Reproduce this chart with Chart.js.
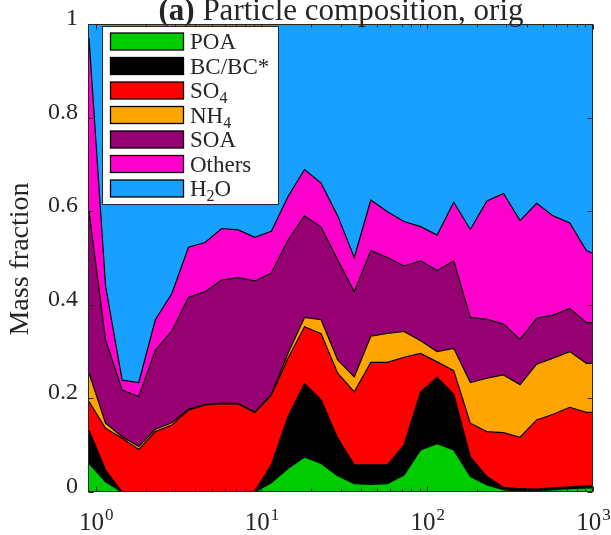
<!DOCTYPE html>
<html>
<head>
<meta charset="utf-8">
<script src="https://cdn.jsdelivr.net/npm/chart.js@4.4.1/dist/chart.umd.min.js"></script>
<style>
  html, body { margin: 0; padding: 0; background: #fff; }
  canvas { display: block; }
</style>
</head>
<body>
<canvas id="chartComposition" width="611" height="535"></canvas>
<script>
// --- DATA ---
// bin positions on the log x axis
const diameters = [0.912, 1.148, 1.445, 1.820, 2.291, 2.884, 3.631, 4.571, 5.754, 7.244,
    9.120, 11.48, 14.45, 18.20, 22.91, 28.84, 36.31, 45.71, 57.54, 72.44,
    91.20, 114.8, 144.5, 182.0, 229.1, 288.4, 363.1, 457.1, 575.4, 724.4, 912.0, 1000];

// mass fractions per species (stacked bottom -> top)
const poa = [0.061, 0.022, 0, 0, 0, 0, 0, 0, 0, 0,
    0, 0.020, 0.050, 0.075, 0.061, 0.035, 0.018, 0.016, 0.018, 0.036,
    0.090, 0.103, 0.090, 0.033, 0.015, 0.005, 0.002, 0.002, 0.005, 0.007, 0.009, 0.009];
const bc = [0.071, 0.025, 0, 0, 0, 0, 0, 0, 0, 0,
    0.002, 0.038, 0.111, 0.157, 0.136, 0.080, 0.040, 0.042, 0.040, 0.064,
    0.124, 0.142, 0.119, 0.042, 0.018, 0.005, 0.005, 0.004, 0.004, 0.004, 0.004, 0.004];
const so4 = [0.061, 0.089, 0.115, 0.091, 0.129, 0.143, 0.175, 0.186, 0.189, 0.188,
    0.168, 0.149, 0.125, 0.121, 0.141, 0.139, 0.156, 0.219, 0.219, 0.188,
    0.082, 0.033, 0.050, 0.072, 0.096, 0.117, 0.110, 0.148, 0.157, 0.170, 0.157, 0.157];
const nh4 = [0.061, 0.011, 0.003, 0.006, 0.005, 0.005, 0.002, 0.001, 0.001, 0.001,
    0.001, 0.002, 0.010, 0.020, 0.030, 0.028, 0.032, 0.056, 0.062, 0.055,
    0.027, 0.022, 0.048, 0.087, 0.114, 0.123, 0.112, 0.119, 0.120, 0.119, 0.105, 0.105];
const soa = [0.346, 0.178, 0.100, 0.107, 0.169, 0.196, 0.239, 0.241, 0.263, 0.269,
    0.280, 0.259, 0.242, 0.217, 0.198, 0.214, 0.182, 0.183, 0.162, 0.140,
    0.171, 0.173, 0.187, 0.139, 0.126, 0.109, 0.097, 0.098, 0.092, 0.092, 0.087, 0.087];
const others = [0.370, 0.115, 0.021, 0.030, 0.065, 0.080, 0.107, 0.105, 0.110, 0.102,
    0.093, 0.089, 0.093, 0.099, 0.094, 0.094, 0.073, 0.108, 0.098, 0.095,
    0.073, 0.076, 0.125, 0.188, 0.253, 0.279, 0.254, 0.246, 0.212, 0.183, 0.154, 0.148];
const h2o = [0.030, 0.560, 0.761, 0.766, 0.632, 0.576, 0.477, 0.467, 0.437, 0.440,
    0.456, 0.443, 0.369, 0.311, 0.340, 0.410, 0.499, 0.376, 0.401, 0.422,
    0.433, 0.451, 0.381, 0.439, 0.378, 0.362, 0.420, 0.383, 0.410, 0.425, 0.484, 0.490];

const seriesNames = ['POA', 'BC/BC*', 'SO_4', 'NH_4', 'SOA', 'Others', 'H_2O'];
const seriesValues = [poa, bc, so4, nh4, soa, others, h2o];
const seriesColors = ['#00CC00', '#000000', '#FF0000', '#FFA500', '#960073', '#FF00CC', '#17A0FF'];

const yTicks = [0, 0.2, 0.4, 0.6, 0.8, 1];
const yTickLabels = ['0', '0.2', '0.4', '0.6', '0.8', '1'];
const xTicks = [1, 10, 100, 1000];
const xTickExponents = ['0', '1', '2', '3'];

const FONT = '"Liberation Serif", "DejaVu Serif", serif';
const AXIS_COLOR = '#262626';

// text with one subscript char after '_'
function drawLabel(ctx, label, x, y, size) {
    const parts = label.split('_');
    ctx.font = size + 'px ' + FONT;
    ctx.fillText(parts[0], x, y);
    let cx = x + ctx.measureText(parts[0]).width;
    if (parts.length > 1) {
        const sub = parts[1][0];
        const rest = parts[1].slice(1);
        ctx.font = Math.round(size * 0.7) + 'px ' + FONT;
        ctx.fillText(sub, cx, y + size * 0.22);
        cx += ctx.measureText(sub).width;
        ctx.font = size + 'px ' + FONT;
        ctx.fillText(rest, cx, y);
    }
}

// axes box, ticks, labels, legend, title
const decorPlugin = {
    id: 'decor',
    afterDraw(chart) {
        const ctx = chart.ctx;
        const a = chart.chartArea;
        const xs = chart.scales.x;
        const ys = chart.scales.y;
        const L = Math.round(a.left) - 0.5, R = Math.round(a.right) - 0.5;
        const T = Math.round(a.top) + 0.5, B = Math.round(a.bottom) - 0.5;

        ctx.save();
        ctx.strokeStyle = AXIS_COLOR;
        ctx.lineWidth = 1;

        // y ticks
        yTicks.forEach(v => {
            const py = Math.round(ys.getPixelForValue(v)) + 0.5;
            ctx.beginPath();
            ctx.moveTo(L, py); ctx.lineTo(L + 5, py);
            ctx.moveTo(R, py); ctx.lineTo(R - 5, py);
            ctx.stroke();
        });
        // x ticks, major + minor
        xTicks.forEach((dec, i) => {
            const mults = i < xTicks.length - 1 ? [1, 2, 3, 4, 5, 6, 7, 8, 9] : [1];
            mults.forEach(m => {
                const px = Math.round(xs.getPixelForValue(dec * m)) + 0.5;
                const len = m === 1 ? 5 : 3;
                ctx.beginPath();
                ctx.moveTo(px, B); ctx.lineTo(px, B - len);
                ctx.moveTo(px, T); ctx.lineTo(px, T + len);
                ctx.stroke();
            });
        });

        // box
        ctx.strokeRect(L, T, R - L, B - T);

        ctx.fillStyle = AXIS_COLOR;
        // y tick labels
        ctx.font = '24px ' + FONT;
        ctx.textAlign = 'right';
        ctx.textBaseline = 'alphabetic';
        yTicks.forEach((v, i) => {
            const py = ys.getPixelForValue(v);
            ctx.fillText(yTickLabels[i], a.left - 11, py + 1);
        });

        // x tick labels 10^n
        ctx.textAlign = 'left';
        xTicks.forEach((v, i) => {
            const px = xs.getPixelForValue(v);
            ctx.font = '25px ' + FONT;
            const w1 = ctx.measureText('10').width;
            ctx.font = '17px ' + FONT;
            const w2 = ctx.measureText(xTickExponents[i]).width;
            const x0 = px - (w1 + w2) / 2;
            ctx.font = '25px ' + FONT;
            ctx.fillText('10', x0, 530);
            ctx.font = '17px ' + FONT;
            ctx.fillText(xTickExponents[i], x0 + w1 + 1, 520);
        });

        // y axis label
        ctx.save();
        ctx.translate(28, 259);
        ctx.rotate(-Math.PI / 2);
        ctx.textAlign = 'center';
        ctx.font = '28px ' + FONT;
        ctx.fillText('Mass fraction', 0, 0);
        ctx.restore();

        // title
        ctx.textAlign = 'left';
        ctx.font = 'bold 31px ' + FONT;
        const tA = '(a)';
        const wA = ctx.measureText(tA).width;
        ctx.font = '31px ' + FONT;
        const tB = ' Particle composition, orig';
        const wB = ctx.measureText(tB).width;
        const tx = (a.left + a.right) / 2 - (wA + wB) / 2;
        ctx.font = 'bold 31px ' + FONT;
        ctx.fillText(tA, tx, 20);
        ctx.font = '31px ' + FONT;
        ctx.fillText(tB, tx + wA, 20);

        // legend
        ctx.fillStyle = '#ffffff';
        ctx.fillRect(102.5, 26.5, 176, 178);
        ctx.strokeStyle = AXIS_COLOR;
        ctx.strokeRect(102.5, 26.5, 176, 178);
        seriesNames.forEach((name, i) => {
            const cy = 41.5 + i * 24.5;
            ctx.fillStyle = seriesColors[i];
            ctx.fillRect(110.5, cy - 8.5, 73, 17);
            ctx.strokeStyle = '#000';
            ctx.lineWidth = 1.3;
            ctx.strokeRect(110.5, cy - 8.5, 73, 17);
            ctx.fillStyle = AXIS_COLOR;
            drawLabel(ctx, name, 190, cy + 7.5, 23);
        });
        ctx.restore();
    }
};

const ctxComp = document.getElementById('chartComposition').getContext('2d');
const chart = new Chart(ctxComp, {
    type: 'line',
    data: {
        datasets: seriesNames.map((name, i) => ({
            label: name,
            data: diameters.map((d, j) => ({ x: d, y: seriesValues[i][j] })),
            backgroundColor: seriesColors[i],
            borderColor: '#000000',
            borderWidth: 1.2,
            pointRadius: 0,
            tension: 0,
            fill: i === 0 ? 'origin' : '-1'
        }))
    },
    options: {
        responsive: false,
        animation: false,
        devicePixelRatio: 1,
        layout: { padding: { left: 89, right: 18, top: 24, bottom: 43 } },
        plugins: { legend: { display: false }, tooltip: { enabled: false } },
        scales: {
            x: { type: 'logarithmic', min: diameters[0], max: 1000, display: false },
            y: { type: 'linear', min: 0, max: 1, stacked: true, display: false }
        }
    },
    plugins: [decorPlugin]
});
</script>
</body>
</html>
